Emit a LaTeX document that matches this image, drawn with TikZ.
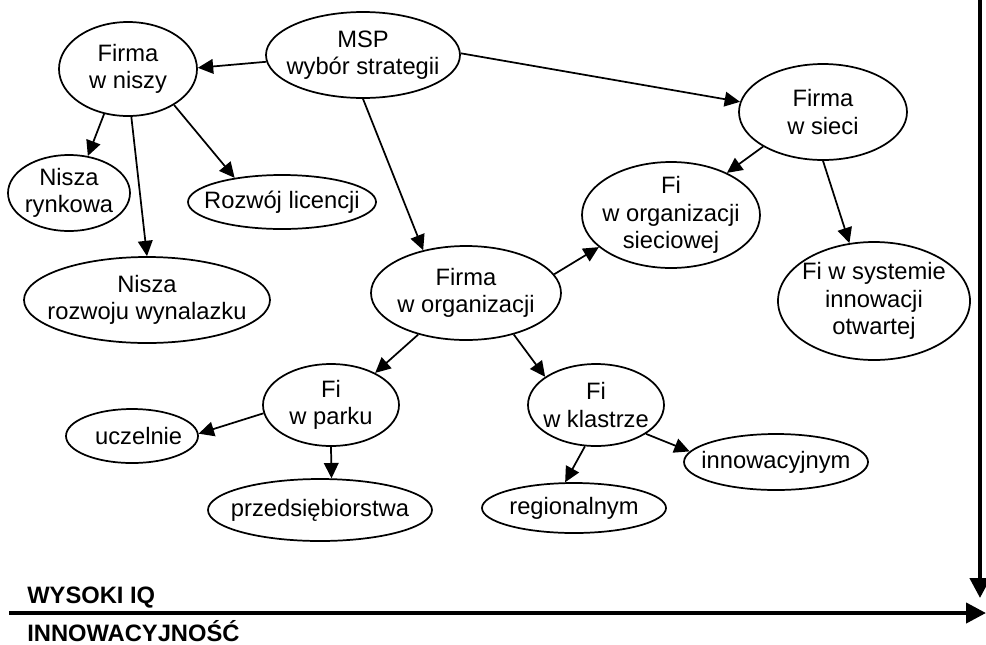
\documentclass[tikz,border=0pt]{standalone}
\usepackage{fontspec}
\setmainfont{Liberation Sans}
\usetikzlibrary{arrows.meta,shapes.geometric}
\begin{document}
\begin{tikzpicture}[x=0.75pt,y=-0.75pt,
  ell/.style 2 args={draw, ellipse, line width=1.3pt, inner sep=0pt, minimum width=#1*1.5pt, minimum height=#2*1.5pt},
  lbl/.style={font=\fontsize{17.8}{20.5}\selectfont, align=center, inner sep=0pt},
  conn/.style={line width=1.3pt, -{Triangle[length=11.5pt,width=11pt]}},
  axarrow/.style={line width=3.2pt, -{Triangle[length=15pt,width=15pt]}},
  axlbl/.style={font=\fontsize{17.8}{20}\selectfont\bfseries, anchor=base west, inner sep=0pt}]
\useasboundingbox (0,0) rectangle (986,644);

% ellipses
\node[ell={97}{43}] (msp)  at (363,55)  {};
\node[ell={69}{47}] (nisz) at (128,69)  {};
\node[ell={61}{38}] (ryn)  at (69,193)  {};
\node[ell={94}{27}] (lic)  at (282,202) {};
\node[ell={123}{43}] (wyn) at (147,300) {};
\node[ell={95}{47}] (org)  at (466,293) {};
\node[ell={68}{41}] (park) at (331,405) {};
\node[ell={66}{27}] (ucz)  at (132,436) {};
\node[ell={112}{31}] (prz) at (320,510) {};
\node[ell={68}{41}] (klas) at (596,405) {};
\node[ell={92}{28}] (inn)  at (776,462) {};
\node[ell={92}{25}] (reg)  at (574,508) {};
\node[ell={96}{59}] (sys)  at (874,301) {};
\node[ell={84}{48}] (siec) at (823,112) {};
\node[ell={89}{53}] (orgs) at (671,215) {};

% texts
\node[lbl] (msp-t)  at (msp)  {MSP\\wybór strategii};
\node[lbl] (nisz-t) at (nisz) {Firma\\w niszy};
\node[lbl] (ryn-t)  at (ryn)  {Nisza\\rynkowa};
\node[lbl] (lic-t)  at (lic)  {Rozwój licencji};
\node[lbl] (wyn-t)  at (wyn)  {Nisza\\rozwoju wynalazku};
\node[lbl] (org-t)  at (org)  {Firma\\w organizacji};
\node[lbl] (park-t) at (park) {Fi\\w parku};
\node[lbl] (ucz-t)  at ([xshift=5pt]ucz) {uczelnie};
\node[lbl] (prz-t)  at (prz)  {przedsiębiorstwa};
\node[lbl] (klas-t) at (klas) {Fi\\w klastrze};
\node[lbl] (inn-t)  at (inn)  {innowacyjnym};
\node[lbl] (reg-t)  at (reg)  {regionalnym};
\node[lbl] (sys-t)  at (sys)  {Fi w systemie\\innowacji\\otwartej};
\node[lbl] (siec-t) at (siec) {Firma\\w sieci};
\node[lbl] (orgs-t) at (orgs) {Fi\\w organizacji\\sieciowej};

% connectors
\draw[conn] (msp.184.1) -- (nisz.1);
\draw[conn] (msp.1.2) -- (siec.173);
\draw[conn] (msp.270) -- (org.135.6);
\draw[conn] (nisz.242.4) -- (ryn.63.4);
\draw[conn] (nisz.274.8) -- (wyn.90);
\draw[conn] (nisz.322.5) -- (lic.153.4);
\draw[conn] (siec.210.3) -- (orgs.37.5);
\draw[conn] (siec.270) -- (sys.113.8);
\draw[conn] (org.12.7) -- (orgs.204);
\draw[conn] (org.221) -- (park.36);
\draw[conn] (org.319.4) -- (klas.151.2);
\draw[conn] (park.187.9) -- (ucz.2.6);
\draw[conn] (park.270) -- (prz.70.5);
\draw[conn] (klas.255.3) -- (reg.109);
\draw[conn] (klas.330.3) -- (inn.173.2);

% axes
\coordinate (vtop) at (980,0);
\coordinate (vend) at (980,598);
\draw[axarrow] (vtop) -- (vend);
\coordinate (hstart) at (9,613);
\coordinate (hend) at (986,613);
\draw[axarrow] (hstart) -- (hend);

\node[axlbl] (iq) at (27,603) {WYSOKI IQ};
\node[axlbl] (inno) at (27,641) {INNOWACYJNOŚĆ};
\end{tikzpicture}
\end{document}
